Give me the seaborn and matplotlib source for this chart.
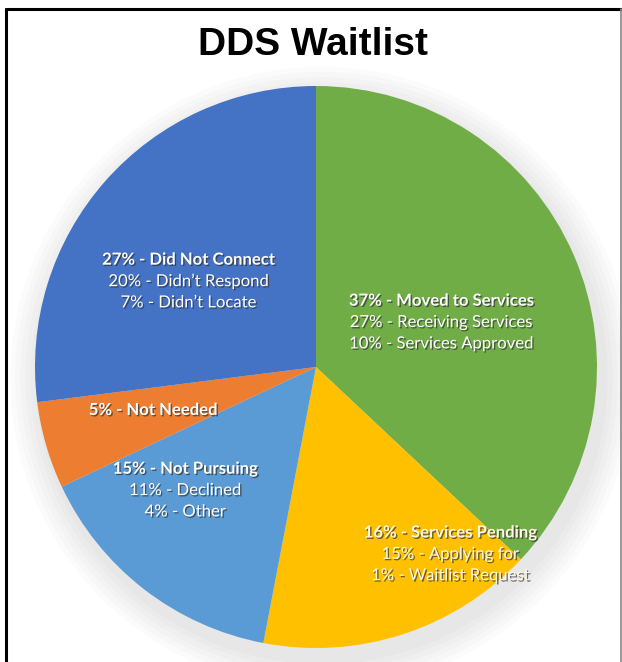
import matplotlib
matplotlib.use("Agg")
import matplotlib.pyplot as plt
import matplotlib.patheffects as pe
from matplotlib.patches import Circle
import seaborn as sns

sns.set_theme(style="white")
plt.rcParams['font.family'] = ['Lato', 'DejaVu Sans']

# ---- data ----
categories = ["Moved to Services", "Services Pending", "Not Pursuing", "Not Needed", "Did Not Connect"]
values = [37, 16, 15, 5, 27]
sub_lines = [
    ["27% - Receiving Services", "10% - Services Approved"],
    ["15% - Applying for", "1% - Waitlist Request"],
    ["11% - Declined", "4% - Other"],
    [],
    ["20% - Didn\u2019t Respond", "7% - Didn\u2019t Locate"],
]
colors = ["#70AD47", "#FFC000", "#5B9BD5", "#ED7D31", "#4472C4"]
title = "DDS Waitlist"

W, H = 622, 662
fig = plt.figure(figsize=(W / 100, H / 100), dpi=100)
fig.patch.set_facecolor("white")

cx, cy, R = 316, 367, 281
ax = fig.add_axes([(cx - R) / W, (H - cy - R) / H, 2 * R / W, 2 * R / H])
ax.axis("off")

wedges, _ = ax.pie(values, colors=colors, startangle=90, counterclock=False,
                   radius=1.0, wedgeprops=dict(linewidth=0))
for w in wedges:
    w.set_zorder(2)

# soft shadow
for i in range(6):
    ax.add_patch(Circle((0.02, -0.04), 1.0 + 0.018 * (6 - i), color="#8a8a8a",
                        alpha=0.03, zorder=0, lw=0, clip_on=False))

ax.set_xlim(-1, 1)
ax.set_ylim(-1, 1)
ax.set_aspect("equal")

# label anchor positions (fractions of radius)
label_pos = [(0.445, 0.16), (0.477, -0.665), (-0.466, -0.438), (-0.58, -0.153), (-0.455, 0.306)]
text_colors = ["white", "#FFF8E0", "white", "white", "white"]
step = 0.076
shadow = [pe.SimplePatchShadow(offset=(1, -1), shadow_rgbFace="#333333", alpha=0.7), pe.Normal()]
for cat, val, subs, (x, y), tc in zip(categories, values, sub_lines, label_pos, text_colors):
    n = 1 + len(subs)
    y0 = y + step * (n - 1) / 2
    ax.text(x, y0, f"{val}% - {cat}", ha="center", va="center", color=tc,
            fontsize=12, fontweight="bold", path_effects=shadow, zorder=5)
    for k, s in enumerate(subs):
        ax.text(x, y0 - step * (k + 1), s, ha="center", va="center", color=tc,
                fontsize=12, path_effects=shadow, zorder=5)

fig.text(313 / W, 1 - 45 / H, title, ha="center", va="center", fontsize=28,
         fontweight="bold", family=["Liberation Sans", "DejaVu Sans"], color="black")

# frame
fig.add_artist(plt.Line2D([6 / W, 6 / W], [0, 1 - 9 / H], color="black", lw=2.2, transform=fig.transFigure))
fig.add_artist(plt.Line2D([6 / W, 1], [1 - 9 / H, 1 - 9 / H], color="black", lw=2.2, transform=fig.transFigure))
fig.add_artist(plt.Line2D([620.5 / W, 620.5 / W], [0, 1 - 9 / H], color="#888888", lw=1.2, transform=fig.transFigure))

fig.savefig("out.png", dpi=100)
